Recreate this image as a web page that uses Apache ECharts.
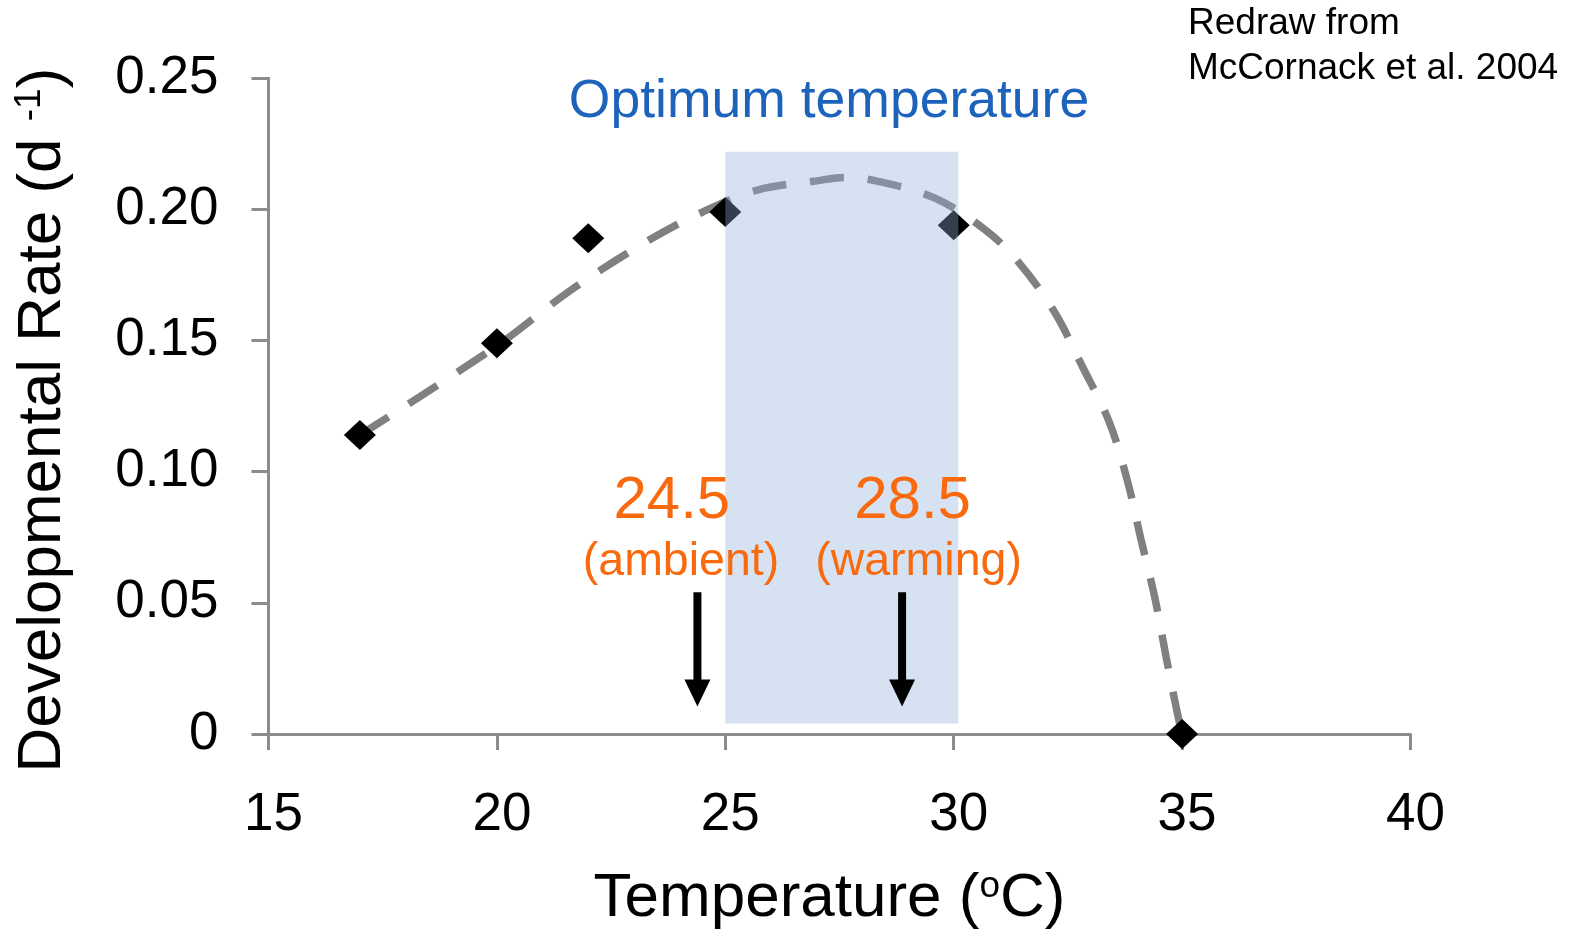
<!DOCTYPE html>
<html>
<head>
<meta charset="utf-8">
<script src="https://cdn.jsdelivr.net/npm/echarts@6/dist/echarts.min.js"></script>
<style>
	html, body { margin: 0; padding: 0; background: #fff; }
	#chart { width: 1574px; height: 932px; }
</style>
</head>
<body>
<div id="chart"></div>
<script>
// measured development rates
const tempC = [17, 20, 22, 25, 30, 35];
const devRate = [0.114, 0.149, 0.189, 0.199, 0.194, 0];

// dashed fitted curve
const curveT = [17, 20, 21.6, 23.3, 24.5, 25.7, 27, 27.6, 28.3, 29.6, 30.7, 31.4, 32.2, 32.8, 33.4, 33.8, 34.1, 34.4, 34.65, 34.9, 35];
const curveRate = [0.114, 0.148, 0.169, 0.188, 0.199, 0.2074, 0.2109, 0.2122, 0.2109, 0.2042, 0.1921, 0.1803, 0.1611, 0.1407, 0.1192, 0.0967, 0.0742, 0.0522, 0.0294, 0.0076, 0];

// optimum temperature band
const bandT = [25, 30.1];
const bandRate = [0.004, 0.222];

// arrows for ambient / warming temperatures
const arrowT = [24.39, 28.87];
const arrowRate = [0.054, 0.0105];

// annotation text
const noteText = ['24.5', '(ambient)', '28.5', '(warming)'];
const noteT = [23.83, 24.03, 29.1, 29.23];
const noteRate = [0.0886, 0.0655, 0.0886, 0.0655];
const noteBig = [true, false, true, false];

const font = '"Liberation Sans", Arial, sans-serif';
const orange = '#f9690e';

var chart = echarts.init(document.getElementById('chart'));

var option = {
	backgroundColor: '#fff',
	animation: false,
	grid: {
		left: 268.5,
		right: 163.5,
		top: 78.3,
		bottom: 198,
		outerBoundsMode: 'none'
	},
	xAxis: {
		type: 'value',
		min: 15,
		max: 40,
		interval: 5,
		name: 'Temperature ({sup|o}C)',
		nameLocation: 'middle',
		nameGap: 134,
		nameTextStyle: {
			fontFamily: font,
			fontSize: 62,
			color: '#000',
			padding: [0, 20, 0, 0],
			rich: {
				sup: { fontFamily: font, fontSize: 37, verticalAlign: 'top', color: '#000' }
			}
		},
		axisLine: { lineStyle: { color: '#8c8c8c', width: 3 } },
		axisTick: { show: true, length: 16, lineStyle: { color: '#8c8c8c', width: 3 } },
		splitLine: { show: false },
		axisLabel: {
			fontFamily: font,
			fontSize: 53,
			color: '#000',
			margin: 55,
			padding: [0, 0, 0, 10]
		}
	},
	yAxis: {
		type: 'value',
		min: 0,
		max: 0.25,
		interval: 0.05,
		name: 'Developmental Rate (d {sup|-1})',
		nameLocation: 'middle',
		nameRotate: 90,
		nameGap: 195,
		nameTextStyle: {
			fontFamily: font,
			fontSize: 62,
			color: '#000',
			padding: [0, 28, 0, 0],
			rich: {
				sup: { fontFamily: font, fontSize: 37, verticalAlign: 'top', color: '#000' }
			}
		},
		axisLine: { show: true, lineStyle: { color: '#8c8c8c', width: 3 } },
		axisTick: { show: true, length: 17, lineStyle: { color: '#8c8c8c', width: 3 } },
		splitLine: { show: false },
		axisLabel: {
			fontFamily: font,
			fontSize: 53,
			color: '#000',
			margin: 50,
			formatter: function (v) { return v === 0 ? '0' : v.toFixed(2); }
		}
	},
	graphic: [
		{
			type: 'text',
			x: 829,
			y: 102,
			style: {
				text: 'Optimum temperature',
				font: '53.5px ' + font,
				fill: '#1e63bb',
				align: 'center',
				verticalAlign: 'middle'
			}
		},
		{
			type: 'text',
			x: 1188,
			y: 1,
			style: {
				text: 'Redraw from\nMcCornack et al. 2004',
				font: '37px ' + font,
				lineHeight: 45,
				fill: '#000',
				align: 'left',
				verticalAlign: 'top'
			}
		}
	],
	series: [
		{
			name: 'curve',
			type: 'line',
			z: 2,
			smooth: 0.35,
			symbol: 'none',
			data: curveT.map((t, i) => [t, curveRate[i]]),
			lineStyle: {
				color: '#808080',
				width: 7.5,
				type: [34, 24],
				cap: 'butt'
			}
		},
		{
			name: 'observed',
			type: 'scatter',
			z: 3,
			symbol: 'diamond',
			symbolSize: [32, 30],
			itemStyle: { color: '#000', opacity: 1 },
			data: tempC.map((t, i) => [t, devRate[i]])
		},
		{
			name: 'optimum',
			type: 'custom',
			z: 4,
			silent: true,
			data: [[bandT[0], bandT[1], bandRate[0], bandRate[1]]],
			encode: { x: [0, 1], y: [2, 3] },
			renderItem: function (params, api) {
				const a = api.coord([api.value(0), api.value(3)]);
				const b = api.coord([api.value(1), api.value(2)]);
				return {
					type: 'rect',
					shape: { x: a[0], y: a[1], width: b[0] - a[0], height: b[1] - a[1] },
					style: { fill: 'rgba(142,172,217,0.36)' }
				};
			}
		},
		{
			name: 'arrows',
			type: 'custom',
			z: 5,
			silent: true,
			data: arrowT.map(t => [t, arrowRate[0], arrowRate[1]]),
			encode: { x: 0, y: [1, 2] },
			renderItem: function (params, api) {
				const top = api.coord([api.value(0), api.value(1)]);
				const tip = api.coord([api.value(0), api.value(2)]);
				const headLen = 27, headW = 13;
				return {
					type: 'group',
					children: [
						{
							type: 'line',
							shape: { x1: top[0], y1: top[1], x2: tip[0], y2: tip[1] - headLen + 2 },
							style: { stroke: '#000', lineWidth: 8 }
						},
						{
							type: 'polygon',
							shape: { points: [[tip[0] - headW, tip[1] - headLen], [tip[0] + headW, tip[1] - headLen], [tip[0], tip[1]]] },
							style: { fill: '#000' }
						}
					]
				};
			}
		},
		{
			name: 'notes',
			type: 'scatter',
			z: 6,
			silent: true,
			symbolSize: 1,
			itemStyle: { color: 'transparent', opacity: 1 },
			data: noteText.map((s, i) => ({
				name: s,
				value: [noteT[i], noteRate[i]],
				label: { fontSize: noteBig[i] ? 60 : 46.5 }
			})),
			label: {
				show: true,
				position: 'inside',
				formatter: '{b}',
				fontFamily: font,
				color: orange,
				opacity: 1
			}
		}
	]
};

chart.setOption(option);
</script>
</body>
</html>
